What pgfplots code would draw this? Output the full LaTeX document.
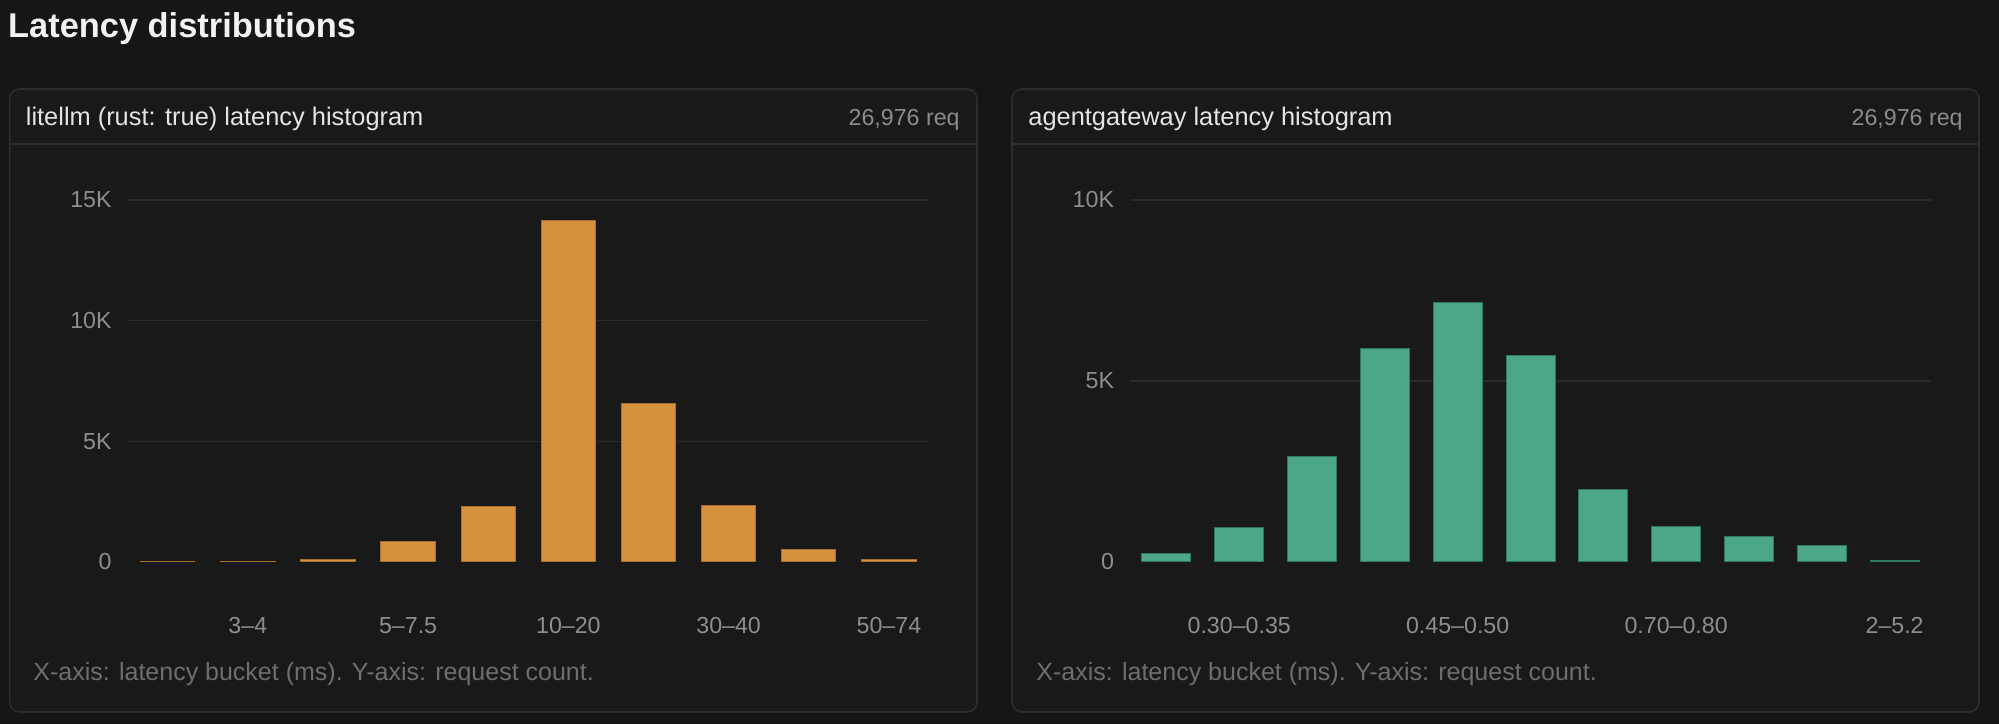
\documentclass[border=0pt]{standalone}
\usepackage{pgfplots}
\pgfplotsset{compat=1.18}
\usepackage{fontspec}
\setmainfont{Liberation Sans}
\definecolor{pagebg}{HTML}{161616}
\definecolor{panelbg}{HTML}{191919}
\definecolor{panelborder}{HTML}{2C2C2C}
\definecolor{gridcol}{HTML}{2A2A2A}
\definecolor{titlecol}{HTML}{F2F2F2}
\definecolor{headcol}{HTML}{E4E4E4}
\definecolor{reqcol}{HTML}{8C8C8C}
\definecolor{tickcol}{HTML}{8E8E8E}
\definecolor{footcol}{HTML}{6E6E6E}
\definecolor{orangebar}{HTML}{D6913F}
\definecolor{orangeedge}{HTML}{A66F2E}
\definecolor{greenbar}{HTML}{4BA786}
\definecolor{greenedge}{HTML}{2F7760}
\pgfplotstableread{
x y
0 10
1 35
2 110
3 870
4 2280
5 14140
6 6550
7 2340
8 527
9 110
}\litellm
\pgfplotstableread{
x y
0 230
1 940
2 2920
3 5890
4 7160
5 5700
6 2000
7 967
8 710
9 460
10 30
}\agentgw
\pgfplotsset{
  panelaxis/.style={
    scale only axis, anchor=south west,
    height=181pt, ymin=0,
    axis line style={draw=none}, tick style={draw=none}, major tick length=0pt,
    scaled y ticks=false,
    ymajorgrids, grid style={gridcol, line width=0.8pt},
    extra y ticks={0}, extra y tick labels={0}, extra y tick style={grid=none},
    tick label style={text=tickcol, font=\fontsize{11.6}{13}\selectfont, inner sep=0pt},
    xticklabel style={anchor=base, yshift=-35.8pt},
    yticklabel style={anchor=east, xshift=-7.8pt},
    xtick={0,...,10},
    ybar, bar shift=0pt, clip=false,
  }
}
\begin{document}
\begin{tikzpicture}
\fill[pagebg] (0pt,0pt) rectangle (999.5pt,362pt);
\useasboundingbox (0pt,0pt) rectangle (999.5pt,362pt);
% title
\node[anchor=base west, inner sep=0pt, text=titlecol, font=\fontsize{17.2}{20}\selectfont\bfseries] at (3.9pt,343pt) {Latency distributions};
% panels
\draw[panelborder, fill=panelbg, rounded corners=5pt, line width=0.8pt] (4.8pt,6pt) rectangle (488.5pt,317.5pt);
\draw[panelborder, line width=0.8pt] (4.8pt,290pt) -- (488.5pt,290pt);
\draw[panelborder, fill=panelbg, rounded corners=5pt, line width=0.8pt] (506pt,6pt) rectangle (989.5pt,317.5pt);
\draw[panelborder, line width=0.8pt] (506pt,290pt) -- (989.5pt,290pt);
% headers
\node[anchor=base west, inner sep=0pt, text=headcol, font=\fontsize{12.7}{15}\selectfont] at (12.75pt,299pt) {litellm (rust: true) latency histogram};
\node[anchor=base east, inner sep=0pt, text=reqcol, font=\fontsize{11.6}{14}\selectfont] at (480pt,299pt) {26,976 req};
\node[anchor=base west, inner sep=0pt, text=headcol, font=\fontsize{12.7}{15}\selectfont] at (514pt,299pt) {agentgateway latency histogram};
\node[anchor=base east, inner sep=0pt, text=reqcol, font=\fontsize{11.6}{14}\selectfont] at (981.5pt,299pt) {26,976 req};
% footers
\node[anchor=base west, inner sep=0pt, text=footcol, font=\fontsize{12.5}{15}\selectfont] at (16.5pt,22pt) {X-axis: latency bucket (ms). Y-axis: request count.};
\node[anchor=base west, inner sep=0pt, text=footcol, font=\fontsize{12.5}{15}\selectfont] at (518pt,22pt) {X-axis: latency bucket (ms). Y-axis: request count.};
% left chart
\begin{axis}[panelaxis, at={(63.8pt,81pt)}, width=400.7pt,
  xmin=-0.5, xmax=9.5, ymax=15000,
  ytick={5000,10000,15000}, yticklabels={5K,10K,15K},
  xticklabels={,3–4,,5–7.5,,10–20,,30–40,,50–74},
  bar width=27.2pt]
\addplot[fill=orangebar, draw=orangeedge, line width=0.5pt] table[x=x,y=y] {\litellm};
\end{axis}
% right chart
\begin{axis}[panelaxis, at={(565pt,81pt)}, width=400.5pt,
  xmin=-0.5, xmax=10.5, ymax=10000,
  ytick={5000,10000}, yticklabels={5K,10K},
  xticklabels={,0.30–0.35,,,0.45–0.50,,,0.70–0.80,,,2–5.2},
  bar width=24.5pt]
\addplot[fill=greenbar, draw=greenedge, line width=0.5pt] table[x=x,y=y] {\agentgw};
\end{axis}
\end{tikzpicture}
\end{document}
